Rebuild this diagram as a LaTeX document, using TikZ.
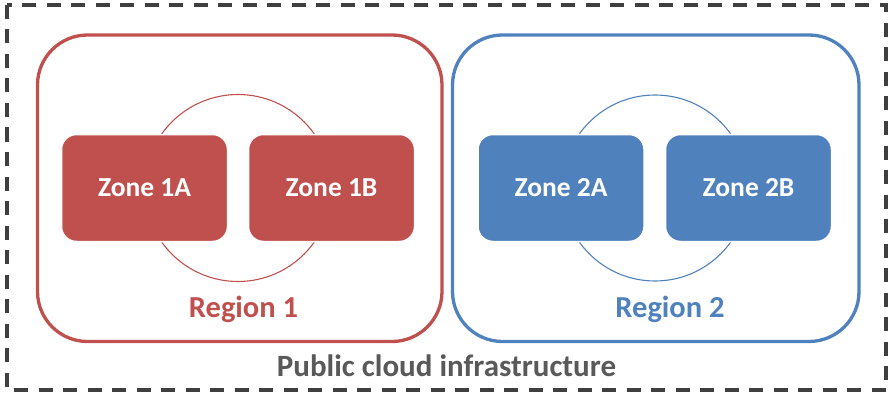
\documentclass[tikz,border=0pt]{standalone}
\usepackage{fontspec}
\setmainfont{Carlito}
\definecolor{regred}{HTML}{C0504D}
\definecolor{regblue}{HTML}{4F81BD}
\definecolor{frame}{HTML}{3F3F3F}
\definecolor{caption}{HTML}{595959}
\tikzset{
  region/.style={line width=3.3pt, rounded corners=50pt},
  zonebox/.style={draw=white, line width=1.5pt, rounded corners=15pt,
    minimum width=166pt, minimum height=107pt, inner sep=0pt,
    text=white, font=\bfseries\fontsize{27.5}{30}\selectfont},
  ring/.style={line width=1.1pt},
  reglabel/.style={anchor=base, inner sep=0pt, font=\bfseries\fontsize{30.5}{33}\selectfont},
}
\begin{document}
\begin{tikzpicture}[x=1pt, y=-1pt]
  \useasboundingbox (0,0) rectangle (888,393);

  % outer dashed frame
  \draw[frame, line width=3.6pt, dash pattern=on 14pt off 10.5pt]
    (7,5) rectangle (886,390);

  % region outlines
  \draw[region, regred]  (37.5,35) rectangle (442,341.5);
  \draw[region, regblue] (452.5,35) rectangle (859,341.5);

  % rings linking the zones of each region
  \draw[ring, regred]  (238,188) circle (93.5pt);
  \draw[ring, regblue] (655,188) circle (93pt);

  % zones
  \node[zonebox, fill=regred]  (z1a) at (144.5,188) {Zone 1A};
  \node[zonebox, fill=regred]  (z1b) at (331.5,188) {Zone 1B};
  \node[zonebox, fill=regblue] (z2a) at (561,188)   {Zone 2A};
  \node[zonebox, fill=regblue] (z2b) at (748.5,188) {Zone 2B};

  % labels
  \node[reglabel, text=regred]  (r1) at (243.5,317) {Region 1};
  \node[reglabel, text=regblue] (r2) at (670,317)   {Region 2};
  \node[anchor=base, inner sep=0pt, text=caption,
        font=\bfseries\fontsize{31}{34}\selectfont] (pc) at (446.5,376.5)
        {Public cloud infrastructure};
\end{tikzpicture}
\end{document}
